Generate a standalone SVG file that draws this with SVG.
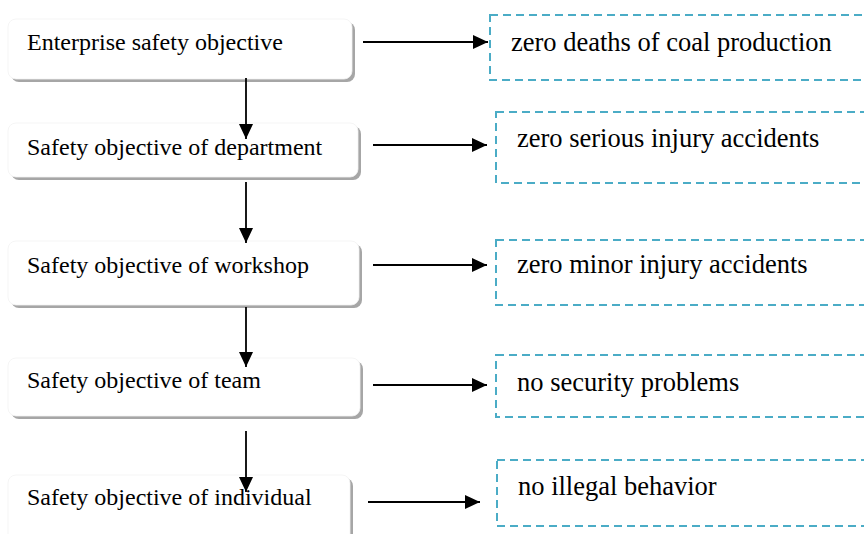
<svg xmlns="http://www.w3.org/2000/svg" width="864" height="534" viewBox="0 0 864 534">
<style>
.shadow{fill:#a6a6a6}
.box{fill:#ffffff;stroke:#f2f2f2;stroke-width:0.8}
.goal{fill:none;stroke:#4bacc6;stroke-width:2;stroke-dasharray:8 5}
.lt{font-family:"Liberation Serif","Times New Roman",serif;font-size:24px;fill:#000}
.rt{font-family:"Liberation Serif","Times New Roman",serif;font-size:26.5px;fill:#000}
.conn{stroke:#000;stroke-width:1.8;fill:none;marker-end:url(#ah)}
</style>
<defs>
<marker id="ah" markerUnits="userSpaceOnUse" markerWidth="15" markerHeight="14" refX="15" refY="7" orient="auto">
<path d="M0,0 L15,7 L0,14 Z" fill="#000"/>
</marker>
</defs>
<rect width="864" height="534" fill="#ffffff"/>
<g id="n1">
<rect class="shadow" x="11" y="22" width="344" height="60" rx="8"/>
<rect class="box" x="8" y="19" width="344" height="60" rx="8"/>
<text class="lt" x="27" y="50">Enterprise safety objective</text>
</g>
<g id="n2">
<rect class="shadow" x="11" y="126" width="350" height="54" rx="8"/>
<rect class="box" x="8" y="123" width="350" height="54" rx="8"/>
<text class="lt" x="27" y="155">Safety objective of department</text>
</g>
<g id="n3">
<rect class="shadow" x="11" y="244" width="351" height="64" rx="8"/>
<rect class="box" x="8" y="241" width="351" height="64" rx="8"/>
<text class="lt" x="27" y="273">Safety objective of workshop</text>
</g>
<g id="n4">
<rect class="shadow" x="11" y="361" width="352" height="58" rx="8"/>
<rect class="box" x="8" y="358" width="352" height="58" rx="8"/>
<text class="lt" x="27" y="388">Safety objective of team</text>
</g>
<g id="n5">
<rect class="shadow" x="11" y="478" width="342" height="80" rx="8"/>
<rect class="box" x="8" y="475" width="342" height="80" rx="8"/>
<text class="lt" x="27" y="505">Safety objective of individual</text>
</g>
<g id="g1">
<rect class="goal" x="490" y="15" width="400" height="65"/>
<text class="rt" x="511" y="51">zero deaths of coal production</text>
</g>
<g id="g2">
<rect class="goal" x="496" y="112" width="400" height="71"/>
<text class="rt" x="517" y="147">zero serious injury accidents</text>
</g>
<g id="g3">
<rect class="goal" x="496" y="240" width="400" height="65"/>
<text class="rt" x="517" y="273">zero minor injury accidents</text>
</g>
<g id="g4">
<rect class="goal" x="496" y="355" width="400" height="62"/>
<text class="rt" x="517" y="391">no security problems</text>
</g>
<g id="g5">
<rect class="goal" x="497" y="460" width="400" height="66"/>
<text class="rt" x="518" y="495">no illegal behavior</text>
</g>
<g id="connectors">
<line class="conn" x1="246" y1="78" x2="246" y2="139"/>
<line class="conn" x1="246" y1="182" x2="246" y2="243"/>
<line class="conn" x1="246" y1="307" x2="246" y2="367"/>
<line class="conn" x1="246" y1="431" x2="246" y2="492"/>
<line class="conn" x1="363" y1="42" x2="488" y2="42"/>
<line class="conn" x1="373" y1="145" x2="487" y2="145"/>
<line class="conn" x1="373" y1="265" x2="487" y2="265"/>
<line class="conn" x1="373" y1="385" x2="487" y2="385"/>
<line class="conn" x1="368" y1="502" x2="480" y2="502"/>
</g>
</svg>
